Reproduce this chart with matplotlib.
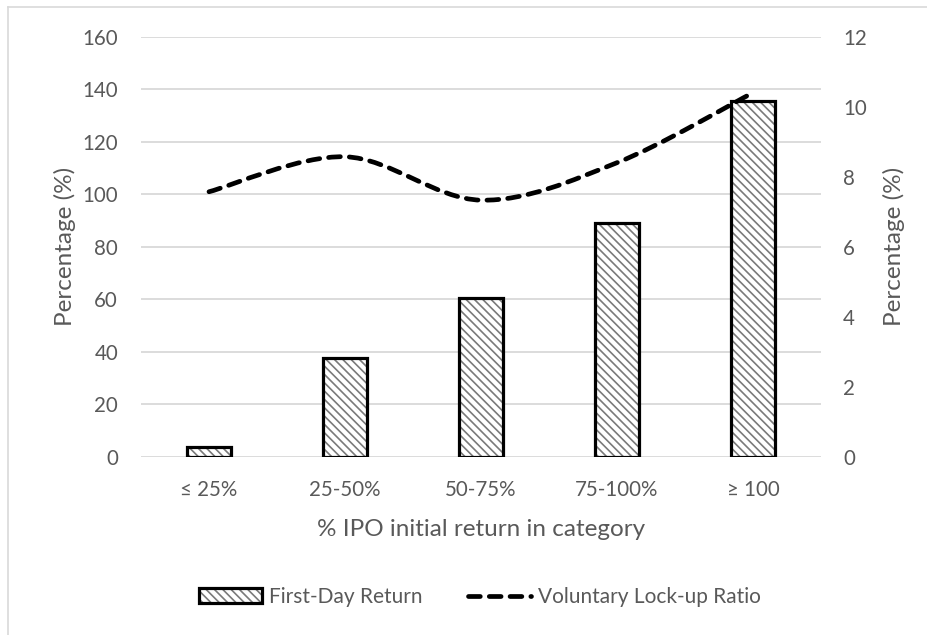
import numpy as np
import matplotlib
matplotlib.use("Agg")
import matplotlib.pyplot as plt
from matplotlib.path import Path
from matplotlib.patches import PathPatch
from matplotlib.lines import Line2D
from matplotlib.legend_handler import HandlerTuple

# data
categories = ["≤ 25%", "25-50%", "50-75%", "75-100%", "≥ 100"]
first_day_return = [3.8, 37.6, 60.5, 89.1, 135.5]      # left axis
lockup_ratio = [7.57, 8.57, 7.33, 8.40, 10.40]          # right axis

left_ticks = [0, 20, 40, 60, 80, 100, 120, 140, 160]
right_ticks = [0, 2, 4, 6, 8, 10, 12]

plt.rcParams['font.family'] = ['Lato', 'DejaVu Sans']
plt.rcParams['hatch.linewidth'] = 1.2
txt = '#595959'
grid = '#d9d9d9'
fs_tick = 14.8
fs_title = 17.5
fs_leg = 15


def smooth_path(xs, ys):
    # Excel-style smoothed line: bezier segments with catmull-rom control points
    pts = np.column_stack([xs, ys]).astype(float)
    n = len(pts)
    verts = [pts[0]]
    codes = [Path.MOVETO]
    for i in range(n - 1):
        p0 = pts[max(i - 1, 0)]
        p1 = pts[i]
        p2 = pts[i + 1]
        p3 = pts[min(i + 2, n - 1)]
        c1 = p1 + (p2 - p0) / 6.0
        c2 = p2 - (p3 - p1) / 6.0
        verts += [c1, c2, p2]
        codes += [Path.CURVE4] * 3
    return Path(verts, codes)


fig = plt.figure(figsize=(9.28, 6.35), dpi=100)
ax = fig.add_axes([141 / 928, 1 - 456.7 / 635, 680 / 928, 420 / 635])
ax2 = ax.twinx()

x = np.arange(len(categories))
w = 0.32
hatched = ax.bar(x, first_day_return, width=w, color='white', edgecolor='#7a7a7a',
                 hatch='\\\\\\\\', linewidth=0, zorder=2)
outline = ax.bar(x, first_day_return, width=w, fill=False, edgecolor='black',
                 linewidth=2.3, zorder=3)

ax.set_xlim(-0.5, len(categories) - 0.5)
ax.set_ylim(0, 160)
ax.set_yticks(left_ticks)
ax.set_xticks(x)
ax.set_xticklabels(categories)
ax.yaxis.grid(True, color=grid, linewidth=1.3, zorder=0)
ax.set_axisbelow(True)
for s in ax.spines.values():
    s.set_visible(False)
ax.tick_params(axis='both', length=0, colors=txt, labelsize=fs_tick)
ax.tick_params(axis='y', pad=16.5)
ax.tick_params(axis='x', pad=17)
ax.set_ylabel('Percentage (%)', color=txt, fontsize=fs_title)
ax.yaxis.set_label_coords((65 - 141) / 680, 0.5)
ax.yaxis.label.set_va('center')
ax.set_xlabel('% IPO initial return in category', color=txt, fontsize=fs_title)
ax.xaxis.set_label_coords(0.5, -(530 - 456.7) / 420)
ax.xaxis.label.set_va('center')

ax2.set_ylim(0, 12)
ax2.set_yticks(right_ticks)
for s in ax2.spines.values():
    s.set_visible(False)
ax2.tick_params(axis='y', length=0, colors=txt, labelsize=fs_tick, pad=16)
ax2.set_ylabel('Percentage (%)', color=txt, fontsize=fs_title)
ax2.yaxis.set_label_coords((894 - 141) / 680, 0.5)
ax2.yaxis.label.set_va('center')

dash = (0, (2.5, 1.9))
curve = PathPatch(smooth_path(x, lockup_ratio), fill=False, edgecolor='black',
                  linewidth=3.4, linestyle=dash, capstyle='round', zorder=4)
ax2.add_patch(curve)

handle_line = Line2D([], [], color='black', linewidth=3.4, linestyle=dash,
                     dash_capstyle='round')
fig.legend([(hatched[0], outline[0]), handle_line],
           ['First-Day Return', 'Voluntary Lock-up Ratio'],
           handler_map={tuple: HandlerTuple(ndivide=1)},
           loc='center', bbox_to_anchor=(480 / 928, 1 - 597 / 635), ncol=2,
           frameon=False, fontsize=fs_leg, labelcolor=txt,
           handlelength=3.0, handleheight=0.7, handletextpad=0.35, columnspacing=2.2)

# light chart-area border (left and top edges visible)
fig.add_artist(Line2D([8 / 928, 8 / 928], [0, 1 - 7 / 635], color=grid, linewidth=1.2))
fig.add_artist(Line2D([8 / 928, 1], [1 - 7 / 635, 1 - 7 / 635], color=grid, linewidth=1.2))

fig.savefig('out.png', dpi=100)
